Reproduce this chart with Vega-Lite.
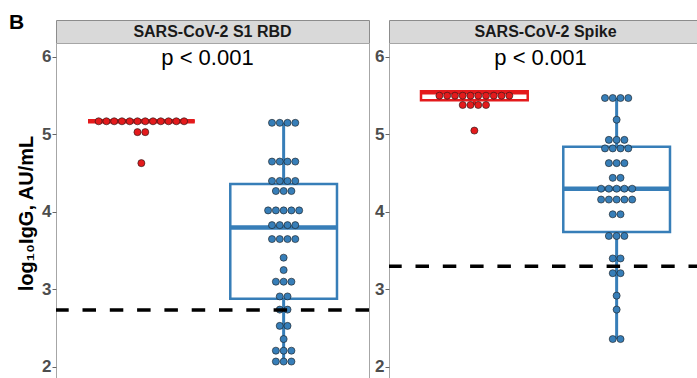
{
  "$schema": "https://vega.github.io/schema/vega-lite/v6.json",
  "padding": {"left": 9, "top": 11, "right": 0, "bottom": 0},
  "bounds": "flush",
  "columns": 2,
  "spacing": {"row": 0, "column": 20},
  "title": {"text": "B", "anchor": "start", "frame": "group", "font": "Liberation Sans", "fontSize": 21, "fontWeight": "bold", "color": "black", "offset": -13, "dx": -47},
  "config": {
    "font": "Liberation Sans",
    "axis": {"grid": false, "domain": false}
  },
  "datasets": {
    "labels": [
      {"panel": "RBD", "strip": "SARS-CoV-2 S1 RBD", "p": "p < 0.001"},
      {"panel": "Spike", "strip": "SARS-CoV-2 Spike", "p": "p < 0.001"}
    ],
    "cutoffs": [
      {"panel": "RBD", "cutoff": 2.735},
      {"panel": "Spike", "cutoff": 3.30}
    ],
    "boxes": [
      {"panel": "RBD", "group": "Group 1", "lower": 5.17, "q1": 5.17, "median": 5.17, "q3": 5.17, "upper": 5.17},
      {"panel": "RBD", "group": "Group 2", "lower": 2.07, "q1": 2.88, "median": 3.80, "q3": 4.36, "upper": 5.15},
      {"panel": "Spike", "group": "Group 1", "lower": 5.38, "q1": 5.44, "median": 5.545, "q3": 5.557, "upper": 5.56},
      {"panel": "Spike", "group": "Group 2", "lower": 2.36, "q1": 3.74, "median": 4.30, "q3": 4.84, "upper": 5.47}
    ],
    "dots": [
      {"panel": "RBD", "group": "Group 1", "value": 5.17},
      {"panel": "RBD", "group": "Group 1", "value": 5.17},
      {"panel": "RBD", "group": "Group 1", "value": 5.17},
      {"panel": "RBD", "group": "Group 1", "value": 5.17},
      {"panel": "RBD", "group": "Group 1", "value": 5.17},
      {"panel": "RBD", "group": "Group 1", "value": 5.17},
      {"panel": "RBD", "group": "Group 1", "value": 5.17},
      {"panel": "RBD", "group": "Group 1", "value": 5.17},
      {"panel": "RBD", "group": "Group 1", "value": 5.17},
      {"panel": "RBD", "group": "Group 1", "value": 5.17},
      {"panel": "RBD", "group": "Group 1", "value": 5.17},
      {"panel": "RBD", "group": "Group 1", "value": 5.17},
      {"panel": "RBD", "group": "Group 1", "value": 5.03},
      {"panel": "RBD", "group": "Group 1", "value": 5.03},
      {"panel": "RBD", "group": "Group 1", "value": 4.63},
      {"panel": "RBD", "group": "Group 2", "value": 5.15},
      {"panel": "RBD", "group": "Group 2", "value": 5.15},
      {"panel": "RBD", "group": "Group 2", "value": 5.15},
      {"panel": "RBD", "group": "Group 2", "value": 5.15},
      {"panel": "RBD", "group": "Group 2", "value": 4.65},
      {"panel": "RBD", "group": "Group 2", "value": 4.65},
      {"panel": "RBD", "group": "Group 2", "value": 4.65},
      {"panel": "RBD", "group": "Group 2", "value": 4.65},
      {"panel": "RBD", "group": "Group 2", "value": 4.40},
      {"panel": "RBD", "group": "Group 2", "value": 4.40},
      {"panel": "RBD", "group": "Group 2", "value": 4.40},
      {"panel": "RBD", "group": "Group 2", "value": 4.40},
      {"panel": "RBD", "group": "Group 2", "value": 4.27},
      {"panel": "RBD", "group": "Group 2", "value": 4.27},
      {"panel": "RBD", "group": "Group 2", "value": 4.27},
      {"panel": "RBD", "group": "Group 2", "value": 4.02},
      {"panel": "RBD", "group": "Group 2", "value": 4.02},
      {"panel": "RBD", "group": "Group 2", "value": 4.02},
      {"panel": "RBD", "group": "Group 2", "value": 4.02},
      {"panel": "RBD", "group": "Group 2", "value": 4.02},
      {"panel": "RBD", "group": "Group 2", "value": 3.83},
      {"panel": "RBD", "group": "Group 2", "value": 3.83},
      {"panel": "RBD", "group": "Group 2", "value": 3.83},
      {"panel": "RBD", "group": "Group 2", "value": 3.83},
      {"panel": "RBD", "group": "Group 2", "value": 3.65},
      {"panel": "RBD", "group": "Group 2", "value": 3.65},
      {"panel": "RBD", "group": "Group 2", "value": 3.65},
      {"panel": "RBD", "group": "Group 2", "value": 3.65},
      {"panel": "RBD", "group": "Group 2", "value": 3.41},
      {"panel": "RBD", "group": "Group 2", "value": 3.25},
      {"panel": "RBD", "group": "Group 2", "value": 3.10},
      {"panel": "RBD", "group": "Group 2", "value": 3.10},
      {"panel": "RBD", "group": "Group 2", "value": 3.10},
      {"panel": "RBD", "group": "Group 2", "value": 2.91},
      {"panel": "RBD", "group": "Group 2", "value": 2.91},
      {"panel": "RBD", "group": "Group 2", "value": 2.74},
      {"panel": "RBD", "group": "Group 2", "value": 2.74},
      {"panel": "RBD", "group": "Group 2", "value": 2.53},
      {"panel": "RBD", "group": "Group 2", "value": 2.53},
      {"panel": "RBD", "group": "Group 2", "value": 2.36},
      {"panel": "RBD", "group": "Group 2", "value": 2.21},
      {"panel": "RBD", "group": "Group 2", "value": 2.21},
      {"panel": "RBD", "group": "Group 2", "value": 2.21},
      {"panel": "RBD", "group": "Group 2", "value": 2.07},
      {"panel": "RBD", "group": "Group 2", "value": 2.07},
      {"panel": "RBD", "group": "Group 2", "value": 2.07},
      {"panel": "Spike", "group": "Group 1", "value": 5.50},
      {"panel": "Spike", "group": "Group 1", "value": 5.50},
      {"panel": "Spike", "group": "Group 1", "value": 5.50},
      {"panel": "Spike", "group": "Group 1", "value": 5.50},
      {"panel": "Spike", "group": "Group 1", "value": 5.50},
      {"panel": "Spike", "group": "Group 1", "value": 5.50},
      {"panel": "Spike", "group": "Group 1", "value": 5.50},
      {"panel": "Spike", "group": "Group 1", "value": 5.50},
      {"panel": "Spike", "group": "Group 1", "value": 5.50},
      {"panel": "Spike", "group": "Group 1", "value": 5.50},
      {"panel": "Spike", "group": "Group 1", "value": 5.38},
      {"panel": "Spike", "group": "Group 1", "value": 5.38},
      {"panel": "Spike", "group": "Group 1", "value": 5.38},
      {"panel": "Spike", "group": "Group 1", "value": 5.38},
      {"panel": "Spike", "group": "Group 1", "value": 5.05},
      {"panel": "Spike", "group": "Group 2", "value": 5.47},
      {"panel": "Spike", "group": "Group 2", "value": 5.47},
      {"panel": "Spike", "group": "Group 2", "value": 5.47},
      {"panel": "Spike", "group": "Group 2", "value": 5.47},
      {"panel": "Spike", "group": "Group 2", "value": 5.19},
      {"panel": "Spike", "group": "Group 2", "value": 4.93},
      {"panel": "Spike", "group": "Group 2", "value": 4.93},
      {"panel": "Spike", "group": "Group 2", "value": 4.93},
      {"panel": "Spike", "group": "Group 2", "value": 4.82},
      {"panel": "Spike", "group": "Group 2", "value": 4.82},
      {"panel": "Spike", "group": "Group 2", "value": 4.82},
      {"panel": "Spike", "group": "Group 2", "value": 4.82},
      {"panel": "Spike", "group": "Group 2", "value": 4.63},
      {"panel": "Spike", "group": "Group 2", "value": 4.63},
      {"panel": "Spike", "group": "Group 2", "value": 4.63},
      {"panel": "Spike", "group": "Group 2", "value": 4.44},
      {"panel": "Spike", "group": "Group 2", "value": 4.44},
      {"panel": "Spike", "group": "Group 2", "value": 4.30},
      {"panel": "Spike", "group": "Group 2", "value": 4.30},
      {"panel": "Spike", "group": "Group 2", "value": 4.30},
      {"panel": "Spike", "group": "Group 2", "value": 4.30},
      {"panel": "Spike", "group": "Group 2", "value": 4.30},
      {"panel": "Spike", "group": "Group 2", "value": 4.16},
      {"panel": "Spike", "group": "Group 2", "value": 4.16},
      {"panel": "Spike", "group": "Group 2", "value": 4.16},
      {"panel": "Spike", "group": "Group 2", "value": 4.16},
      {"panel": "Spike", "group": "Group 2", "value": 4.16},
      {"panel": "Spike", "group": "Group 2", "value": 3.97},
      {"panel": "Spike", "group": "Group 2", "value": 3.97},
      {"panel": "Spike", "group": "Group 2", "value": 3.69},
      {"panel": "Spike", "group": "Group 2", "value": 3.69},
      {"panel": "Spike", "group": "Group 2", "value": 3.69},
      {"panel": "Spike", "group": "Group 2", "value": 3.40},
      {"panel": "Spike", "group": "Group 2", "value": 3.40},
      {"panel": "Spike", "group": "Group 2", "value": 3.21},
      {"panel": "Spike", "group": "Group 2", "value": 3.21},
      {"panel": "Spike", "group": "Group 2", "value": 2.92},
      {"panel": "Spike", "group": "Group 2", "value": 2.74},
      {"panel": "Spike", "group": "Group 2", "value": 2.36},
      {"panel": "Spike", "group": "Group 2", "value": 2.36}
    ]
  },
  "concat": [
    {
      "width": 313, "height": 23,
      "view": {"fill": "#d9d9d9", "stroke": "#8c8c8c"},
      "data": {"name": "labels"},
      "transform": [{"filter": "datum.panel === 'RBD'"}],
      "mark": {"type": "text", "font": "Liberation Sans", "fontSize": 16, "fontWeight": "bold", "color": "#1a1a1a", "baseline": "middle"},
      "encoding": {"text": {"field": "strip"}}
    },
    {
      "width": 313, "height": 23,
      "view": {"fill": "#d9d9d9", "stroke": "#8c8c8c"},
      "data": {"name": "labels"},
      "transform": [{"filter": "datum.panel === 'Spike'"}],
      "mark": {"type": "text", "font": "Liberation Sans", "fontSize": 16, "fontWeight": "bold", "color": "#1a1a1a", "baseline": "middle"},
      "encoding": {"text": {"field": "strip"}}
    },
    {
      "width": 313, "height": 340,
      "view": {"stroke": "#a6a6a6", "fill": "white"},
      "resolve": {"scale": {"xOffset": "independent"}},
      "layer": [
        {
          "data": {"name": "boxes"},
          "transform": [{"filter": "datum.panel === 'RBD'"}],
          "mark": {"type": "rule", "strokeWidth": 3},
          "encoding": {
            "x": {"field": "group", "type": "nominal", "axis": null, "scale": {"paddingInner": 0.25, "paddingOuter": 0.225}},
            "y": {"field": "lower", "type": "quantitative", "scale": {"domain": [1.793, 6.18], "nice": false, "zero": false},
              "axis": {"values": [2, 3, 4, 5, 6], "format": "d", "tickColor": "#666666", "tickSize": 4, "labelPadding": 1, "labelFontSize": 17, "labelFontWeight": "bold", "labelColor": "#4d4d4d", "title": "log₁₀IgG, AU/mL", "titleFontSize": 20, "titleFontWeight": "bold", "titleColor": "black", "titlePadding": 5}},
            "y2": {"field": "upper"},
            "color": {"field": "group", "type": "nominal", "scale": {"domain": ["Group 1", "Group 2"], "range": ["#E41A1C", "#377EB8"]}, "legend": null}
          }
        },
        {
          "data": {"name": "boxes"},
          "transform": [{"filter": "datum.panel === 'RBD'"}],
          "mark": {"type": "rect", "fill": "white", "strokeWidth": 2.5},
          "encoding": {
            "x": {"field": "group", "type": "nominal"},
            "y": {"field": "q1", "type": "quantitative"},
            "y2": {"field": "q3"},
            "stroke": {"field": "group", "type": "nominal", "scale": {"domain": ["Group 1", "Group 2"], "range": ["#E41A1C", "#377EB8"]}, "legend": null}
          }
        },
        {
          "data": {"name": "boxes"},
          "transform": [{"filter": "datum.panel === 'RBD'"}],
          "mark": {"type": "rect", "fillOpacity": 0, "strokeWidth": 4.5},
          "encoding": {
            "x": {"field": "group", "type": "nominal"},
            "y": {"field": "median", "type": "quantitative"},
            "y2": {"field": "median"},
            "stroke": {"field": "group", "type": "nominal", "legend": null}
          }
        },
        {
          "data": {"name": "dots"},
          "transform": [
            {"filter": "datum.panel === 'RBD'"},
            {"window": [{"op": "row_number", "as": "idx"}, {"op": "count", "as": "n"}], "groupby": ["panel", "group", "value"], "frame": [null, null]},
            {"calculate": "datum.idx - (datum.n + 1) / 2", "as": "slot"}
          ],
          "mark": {"type": "point", "filled": true, "opacity": 1, "size": 50, "stroke": "#1a1a1a", "strokeWidth": 0.6},
          "encoding": {
            "x": {"field": "group", "type": "nominal"},
            "xOffset": {"field": "slot", "type": "quantitative", "scale": {"domain": [-6.87, 6.87]}},
            "y": {"field": "value", "type": "quantitative"},
            "fill": {"field": "group", "type": "nominal", "scale": {"domain": ["Group 1", "Group 2"], "range": ["#E41A1C", "#377EB8"]}, "legend": null}
          }
        },
        {
          "data": {"name": "cutoffs"},
          "transform": [{"filter": "datum.panel === 'RBD'"}],
          "mark": {"type": "rule", "color": "black", "strokeWidth": 3.5, "strokeDash": [13.5, 13.8]},
          "encoding": {"y": {"field": "cutoff", "type": "quantitative"}}
        },
        {
          "data": {"name": "labels"},
          "transform": [{"filter": "datum.panel === 'RBD'"}],
          "mark": {"type": "text", "font": "Liberation Sans", "fontSize": 22, "color": "black", "baseline": "alphabetic", "dx": -5},
          "encoding": {"text": {"field": "p"}, "y": {"datum": 5.9}}
        }
      ]
    },
    {
      "width": 313, "height": 340,
      "view": {"stroke": "#a6a6a6", "fill": "white"},
      "resolve": {"scale": {"xOffset": "independent"}},
      "layer": [
        {
          "data": {"name": "boxes"},
          "transform": [{"filter": "datum.panel === 'Spike'"}],
          "mark": {"type": "rule", "strokeWidth": 3},
          "encoding": {
            "x": {"field": "group", "type": "nominal", "axis": null, "scale": {"paddingInner": 0.25, "paddingOuter": 0.225}},
            "y": {"field": "lower", "type": "quantitative", "scale": {"domain": [1.793, 6.18], "nice": false, "zero": false},
              "axis": {"values": [2, 3, 4, 5, 6], "format": "d", "tickColor": "#666666", "tickSize": 4, "labelPadding": 1, "labelFontSize": 17, "labelFontWeight": "bold", "labelColor": "#4d4d4d", "title": null}},
            "y2": {"field": "upper"},
            "color": {"field": "group", "type": "nominal", "scale": {"domain": ["Group 1", "Group 2"], "range": ["#E41A1C", "#377EB8"]}, "legend": null}
          }
        },
        {
          "data": {"name": "boxes"},
          "transform": [{"filter": "datum.panel === 'Spike'"}],
          "mark": {"type": "rect", "fill": "white", "strokeWidth": 2.5},
          "encoding": {
            "x": {"field": "group", "type": "nominal"},
            "y": {"field": "q1", "type": "quantitative"},
            "y2": {"field": "q3"},
            "stroke": {"field": "group", "type": "nominal", "scale": {"domain": ["Group 1", "Group 2"], "range": ["#E41A1C", "#377EB8"]}, "legend": null}
          }
        },
        {
          "data": {"name": "boxes"},
          "transform": [{"filter": "datum.panel === 'Spike'"}],
          "mark": {"type": "rect", "fillOpacity": 0, "strokeWidth": 4.5},
          "encoding": {
            "x": {"field": "group", "type": "nominal"},
            "y": {"field": "median", "type": "quantitative"},
            "y2": {"field": "median"},
            "stroke": {"field": "group", "type": "nominal", "legend": null}
          }
        },
        {
          "data": {"name": "dots"},
          "transform": [
            {"filter": "datum.panel === 'Spike'"},
            {"window": [{"op": "row_number", "as": "idx"}, {"op": "count", "as": "n"}], "groupby": ["panel", "group", "value"], "frame": [null, null]},
            {"calculate": "datum.idx - (datum.n + 1) / 2", "as": "slot"}
          ],
          "mark": {"type": "point", "filled": true, "opacity": 1, "size": 50, "stroke": "#1a1a1a", "strokeWidth": 0.6},
          "encoding": {
            "x": {"field": "group", "type": "nominal"},
            "xOffset": {"field": "slot", "type": "quantitative", "scale": {"domain": [-6.87, 6.87]}},
            "y": {"field": "value", "type": "quantitative"},
            "fill": {"field": "group", "type": "nominal", "scale": {"domain": ["Group 1", "Group 2"], "range": ["#E41A1C", "#377EB8"]}, "legend": null}
          }
        },
        {
          "data": {"name": "cutoffs"},
          "transform": [{"filter": "datum.panel === 'Spike'"}],
          "mark": {"type": "rule", "color": "black", "strokeWidth": 3.5, "strokeDash": [13.5, 13.8]},
          "encoding": {"y": {"field": "cutoff", "type": "quantitative"}}
        },
        {
          "data": {"name": "labels"},
          "transform": [{"filter": "datum.panel === 'Spike'"}],
          "mark": {"type": "text", "font": "Liberation Sans", "fontSize": 22, "color": "black", "baseline": "alphabetic", "dx": -5},
          "encoding": {"text": {"field": "p"}, "y": {"datum": 5.9}}
        }
      ]
    }
  ]
}
